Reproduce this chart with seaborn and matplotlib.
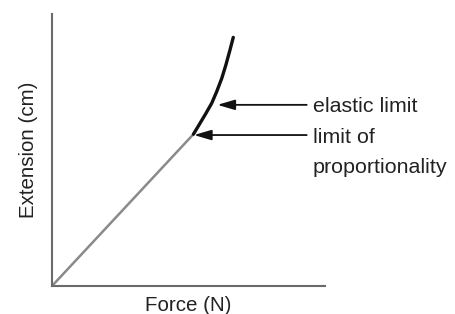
import matplotlib
matplotlib.use("Agg")
import matplotlib.pyplot as plt
import seaborn as sns
import pandas as pd

# Data (arbitrary units)
linear_force = [0.0, 5.18]
linear_ext = [0.0, 5.58]
curve_force = [5.18, 5.42, 5.64, 5.85, 6.03, 6.22, 6.37, 6.52, 6.64]
curve_ext = [5.58, 5.98, 6.35, 6.72, 7.14, 7.64, 8.13, 8.68, 9.14]

elastic_point = (6.06, 6.66)
prop_point = (5.20, 5.55)
labels = ["elastic limit", "limit of", "proportionality"]
xlabel = "Force (N)"
ylabel = "Extension (cm)"

sns.set_style("white")
plt.rcParams['font.family'] = ['Liberation Sans', 'DejaVu Sans']

fig = plt.figure(figsize=(4.55, 3.14), dpi=100)
ax = fig.add_axes([52/455, 28/314, (325-52)/455, (286-14)/314])

lin = pd.DataFrame({"f": linear_force, "e": linear_ext})
cur = pd.DataFrame({"f": curve_force, "e": curve_ext})
sns.lineplot(data=lin, x="f", y="e", ax=ax, color="#8a8a8a", linewidth=1.8, sort=False)
sns.lineplot(data=cur, x="f", y="e", ax=ax, color="#111111", linewidth=2.4, sort=False)
for ln in ax.lines:
    ln.set_solid_joinstyle("round")
    ln.set_solid_capstyle("round")

ax.set_xlim(0, 10)
ax.set_ylim(0, 10)
ax.set_xticks([])
ax.set_yticks([])
for s in ["top", "right"]:
    ax.spines[s].set_visible(False)
for s in ["left", "bottom"]:
    ax.spines[s].set_color("#6a6a6a")
    ax.spines[s].set_linewidth(1.5)

ax.set_xlabel(xlabel, fontsize=14.8, color="#222222", labelpad=7)
ax.set_ylabel(ylabel, fontsize=14.8, color="#222222", labelpad=10)

tail_x = 9.33
for pt in (elastic_point, prop_point):
    ax.annotate("", xy=pt, xytext=(tail_x, pt[1]),
                arrowprops=dict(arrowstyle="-|>,head_length=0.75,head_width=0.22",
                                color="#111111", lw=1.3,
                                mutation_scale=14, shrinkA=0, shrinkB=0))

text_x = 9.55
dy = 2 / 27.2
line_gap = 30 / 27.2
ax.text(text_x, elastic_point[1] - dy, labels[0], fontsize=15.4, color="#222222",
        va="center", ha="left", clip_on=False)
ax.text(text_x, prop_point[1] - dy, labels[1], fontsize=15.4, color="#222222",
        va="center", ha="left", clip_on=False)
ax.text(text_x, prop_point[1] - dy - line_gap, labels[2], fontsize=15.4, color="#222222",
        va="center", ha="left", clip_on=False)

fig.savefig("out.png", dpi=100)
